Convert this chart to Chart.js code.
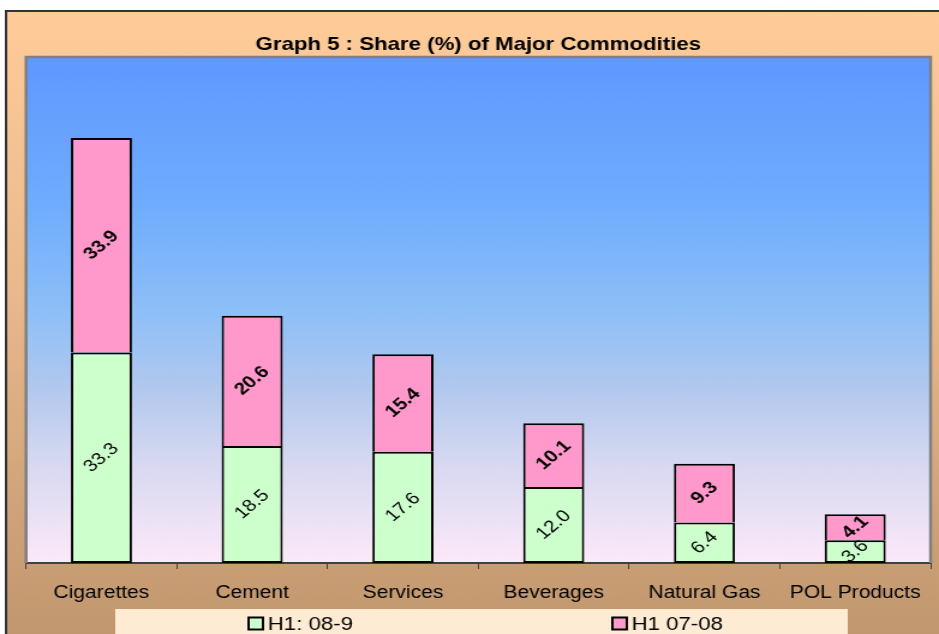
<!DOCTYPE html>
<html><head><meta charset="utf-8">
<script src="https://cdn.jsdelivr.net/npm/chart.js@4.4.1/dist/chart.umd.min.js"></script>
<style>html,body{margin:0;padding:0;background:#fff;overflow:hidden}</style>
</head><body>
<canvas id="c" width="782" height="634" style="display:block;width:939px;height:634px"></canvas>
<script>
const categories = ['Cigarettes', 'Cement', 'Services', 'Beverages', 'Natural Gas', 'POL Products'];
const seriesLabels = ['H1: 08-9', 'H1 07-08'];
const h1_0809 = [33.3, 18.5, 17.6, 12.0, 6.4, 3.6];
const h1_0708 = [33.9, 20.6, 15.4, 10.1, 9.3, 4.1];
const titleText = 'Graph 5 : Share (%) of Major Commodities';

const FONT = "'Liberation Sans', Arial, sans-serif";

const decoPlugin = {
  id: 'deco',
  beforeDraw(chart) {
    const {ctx, width, height, chartArea: a} = chart;
    ctx.save();
    ctx.fillStyle = '#ffffff';
    ctx.fillRect(0, 0, width, height);
    const g = ctx.createLinearGradient(0, 11, 0, height);
    g.addColorStop(0, '#FFCC99');
    g.addColorStop(0.45, '#E8B98C');
    g.addColorStop(1, '#C1976F');
    ctx.fillStyle = g;
    ctx.fillRect(5, 11, width - 5, height - 11);
    ctx.strokeStyle = '#333333';
    ctx.lineWidth = 2;
    ctx.beginPath();
    ctx.moveTo(5, height); ctx.lineTo(5, 11); ctx.lineTo(width, 11);
    ctx.stroke();
    const pg = ctx.createLinearGradient(0, a.top, 0, a.bottom);
    pg.addColorStop(0, '#5F98FF');
    pg.addColorStop(0.3, '#70ADFE');
    pg.addColorStop(0.5, '#8DBFF8');
    pg.addColorStop(0.65, '#B0C8EE');
    pg.addColorStop(0.8, '#D6D8F1');
    pg.addColorStop(1, '#FCE9F9');
    ctx.fillStyle = pg;
    ctx.fillRect(a.left, a.top, a.right - a.left, a.bottom - a.top);
    // legend box
    ctx.fillStyle = '#FDEBD3';
    ctx.fillRect(96, 609, 610, height - 609);
    ctx.restore();
  },
  beforeDatasetsDraw(chart) {
    const {ctx, chartArea: a} = chart;
    ctx.save();
    ctx.strokeStyle = '#808080';
    ctx.lineWidth = 2.5;
    ctx.beginPath();
    ctx.moveTo(a.left, a.bottom); ctx.lineTo(a.left, a.top);
    ctx.lineTo(a.right, a.top); ctx.lineTo(a.right, a.bottom);
    ctx.stroke();
    ctx.restore();
  },
  afterDatasetsDraw(chart) {
    const {ctx} = chart;
    ctx.save();
    chart.data.datasets.forEach((ds, di) => {
      const meta = chart.getDatasetMeta(di);
      meta.data.forEach((el, i) => {
        const v = ds.data[i];
        const cy = (el.y + el.base) / 2;
        ctx.save();
        ctx.translate(el.x, cy);
        ctx.rotate(-Math.PI / 4);
        ctx.font = (di === 1 ? 'bold ' : '') + '17px ' + FONT;
        ctx.fillStyle = '#000';
        ctx.textAlign = 'center';
        ctx.textBaseline = 'middle';
        ctx.fillText(v.toFixed(1), 0, 0);
        ctx.restore();
      });
    });
    ctx.restore();
  },
  afterDraw(chart) {
    const {ctx} = chart;
    const xs = [207, 510];
    const cy = 624;
    ctx.save();
    chart.data.datasets.forEach((ds, di) => {
      const x = xs[di];
      ctx.fillStyle = ds.backgroundColor;
      ctx.fillRect(x, cy - 6.5, 12, 12);
      ctx.strokeStyle = '#000';
      ctx.lineWidth = 2;
      ctx.strokeRect(x, cy - 6.5, 12, 12);
      ctx.fillStyle = '#000';
      ctx.font = '18.5px ' + FONT;
      ctx.textAlign = 'left';
      ctx.textBaseline = 'middle';
      ctx.fillText(ds.label, x + 16, cy + 0.5);
    });
    ctx.restore();
  }
};

const chart = new Chart(document.getElementById('c'), {
  type: 'bar',
  data: {
    labels: categories,
    datasets: [
      {label: seriesLabels[0], data: h1_0809, backgroundColor: '#CCFFCC', borderColor: '#000', borderWidth: 2, borderSkipped: false},
      {label: seriesLabels[1], data: h1_0708, backgroundColor: '#FF99CC', borderColor: '#000', borderWidth: 2, borderSkipped: 'start'}
    ]
  },
  options: {
    responsive: false,
    devicePixelRatio: 1,
    animation: false,
    layout: {padding: {left: 21.7, right: 7, top: 0, bottom: 25}},
    datasets: {bar: {barPercentage: 0.405, categoryPercentage: 1}},
    plugins: {
      legend: {display: false},
      tooltip: {enabled: false},
      title: {
        display: true,
        text: titleText,
        color: '#000',
        font: {family: FONT, size: 18.5, weight: 'bold'},
        padding: {top: 34, bottom: 0.8}
      }
    },
    scales: {
      x: {
        stacked: true,
        offset: true,
        grid: {display: true, drawOnChartArea: false, drawTicks: true, tickLength: 6, color: '#404040', lineWidth: 1, offset: true},
        border: {display: true, color: '#404040', width: 2},
        ticks: {color: '#000', font: {family: FONT, size: 17.5}, padding: 14, maxRotation: 0, autoSkip: false},
        afterFit(scale) { scale.height = 46; }
      },
      y: {
        stacked: true,
        display: false,
        min: 0,
        max: 80
      }
    }
  },
  plugins: [decoPlugin]
});
chart.canvas.style.width = '939px';
chart.canvas.style.height = '634px';
</script>
</body></html>
